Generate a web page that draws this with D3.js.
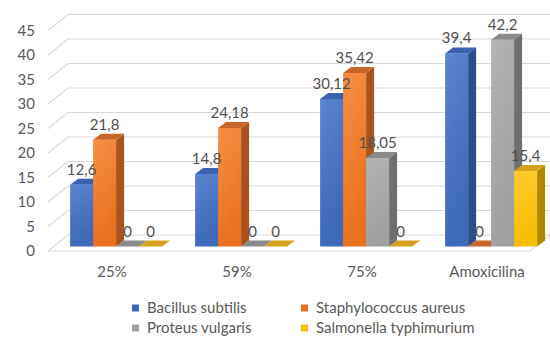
<!DOCTYPE html>
<html><head><meta charset="utf-8">
<script src="https://cdn.jsdelivr.net/npm/d3@7"></script>
<style>body{margin:0;background:#fff}svg{display:block}</style>
</head><body>
<script>
const categories = ["25%", "59%", "75%", "Amoxicilina"];
const seriesNames = ["Bacillus subtilis", "Staphylococcus aureus", "Proteus vulgaris", "Salmonella typhimurium"];
const bacillus = [12.6, 14.8, 30.12, 39.4];
const staph = [21.8, 24.18, 35.42, 0];
const proteus = [0, 0, 18.05, 42.2];
const salmonella = [0, 0, 0, 15.4];
const yTicks = [0, 5, 10, 15, 20, 25, 30, 35, 40, 45];

const seriesValues = [bacillus, staph, proteus, salmonella];
const colors = [
  {front1:"#5b84d0", front2:"#3e69b8", side:"#2c4c8a", top:"#3a62ae"},
  {front1:"#f88f45", front2:"#e8701f", side:"#a9531d", top:"#c8652a"},
  {front1:"#b3b3b3", front2:"#a0a0a0", side:"#6f6f6f", top:"#8a8a8a"},
  {front1:"#ffcc33", front2:"#f5bd00", side:"#b08800", top:"#d4a21a"}
];

const W = 550, H = 343;
const svg = d3.select("body").append("svg").attr("width", W).attr("height", H);
const defs = svg.append("defs");
colors.forEach((c, i) => {
  const g = defs.append("linearGradient").attr("id", "g" + i)
    .attr("x1", 0).attr("y1", 0).attr("x2", 0.3).attr("y2", 1);
  g.append("stop").attr("offset", "0%").attr("stop-color", c.front1);
  g.append("stop").attr("offset", "100%").attr("stop-color", c.front2);
});

// geometry
const backDX = 20, backDY = -16;   // depth of floor
const barOX = 5.6, barOY = -4.5;   // bar front offset in depth
const barDX = 8, barDY = -6;       // bar depth
const y = d3.scaleLinear().domain([0, 45]).range([251, 30.5]);
const x = d3.scaleBand().domain(categories).range([48, 548]).padding(0);
const barW = 23;
const inner = d3.scaleBand().domain(d3.range(4)).range([-2 * barW, 2 * barW]);

const grid = svg.append("g").attr("stroke", "#d9d9d9").attr("stroke-width", 1.2).attr("fill", "none");
yTicks.forEach(v => {
  const yf = y(v);
  grid.append("path").attr("d", `M48,${yf}L${48 + backDX},${yf + backDY}L550,${yf + backDY}`);
});
// floor front edge
grid.append("path").attr("d", `M48,${y(0)}L530,${y(0)}L550,${y(0) + backDY}`);

// y tick labels
svg.append("g").selectAll("text").data(yTicks).join("text")
  .attr("x", 35).attr("y", d => y(d)).attr("dy", "0.35em")
  .attr("text-anchor", "end").attr("font-family", "Lato, sans-serif")
  .attr("font-size", 15).attr("fill", "#595959").text(d => d);

// x labels
svg.append("g").selectAll("text").data(categories).join("text")
  .attr("x", d => x(d) + x.bandwidth() / 2 + 1.5).attr("y", 277)
  .attr("text-anchor", "middle").attr("font-family", "Lato, sans-serif")
  .attr("font-size", 15).attr("fill", "#595959").text(d => d);

// bars
const bars = [];
categories.forEach((cat, ci) => {
  seriesValues.forEach((vals, si) => {
    bars.push({cat, ci, si, v: vals[ci]});
  });
});
const barG = svg.append("g");
bars.forEach(b => {
  const x0 = x(b.cat) + x.bandwidth() / 2 + inner(b.si) + barOX;
  const x1 = x0 + barW;
  const yb = y(0) + barOY;
  const yt = y(b.v) + barOY;
  const c = colors[b.si];
  if (b.v > 0) {
    barG.append("rect").attr("x", x0).attr("y", yt).attr("width", barW).attr("height", yb - yt)
      .attr("fill", `url(#g${b.si})`);
    barG.append("path").attr("d", `M${x1},${yt}L${x1 + barDX},${yt + barDY}L${x1 + barDX},${yb + barDY}L${x1},${yb}Z`)
      .attr("fill", c.side);
  }
  barG.append("path").attr("d", `M${x0},${yt}L${x0 + barDX},${yt + barDY}L${x1 + barDX},${yt + barDY}L${x1},${yt}Z`)
    .attr("fill", c.top);
  b.lx = (x0 + x1) / 2;
  b.ly = yt + barDY - 4;
});

// value labels
svg.append("g").selectAll("text").data(bars).join("text")
  .attr("x", d => d.lx).attr("y", d => d.ly)
  .attr("text-anchor", "middle").attr("font-family", "Lato, sans-serif")
  .attr("font-size", 15).attr("fill", "#505050")
  .text(d => String(d.v).replace(".", ","));

// legend
const legPos = [[132, 308], [301, 308], [132, 328], [301, 328]];
const leg = svg.append("g");
seriesNames.forEach((n, i) => {
  const [lx, ly] = legPos[i];
  leg.append("rect").attr("x", lx).attr("y", ly - 3.5).attr("width", 7).attr("height", 7).attr("fill", colors[i].front2);
  leg.append("text").attr("x", lx + 15).attr("y", ly).attr("dy", "0.35em")
    .attr("font-family", "Lato, sans-serif").attr("font-size", 15).attr("fill", "#595959").text(n);
});
</script>
</body></html>
